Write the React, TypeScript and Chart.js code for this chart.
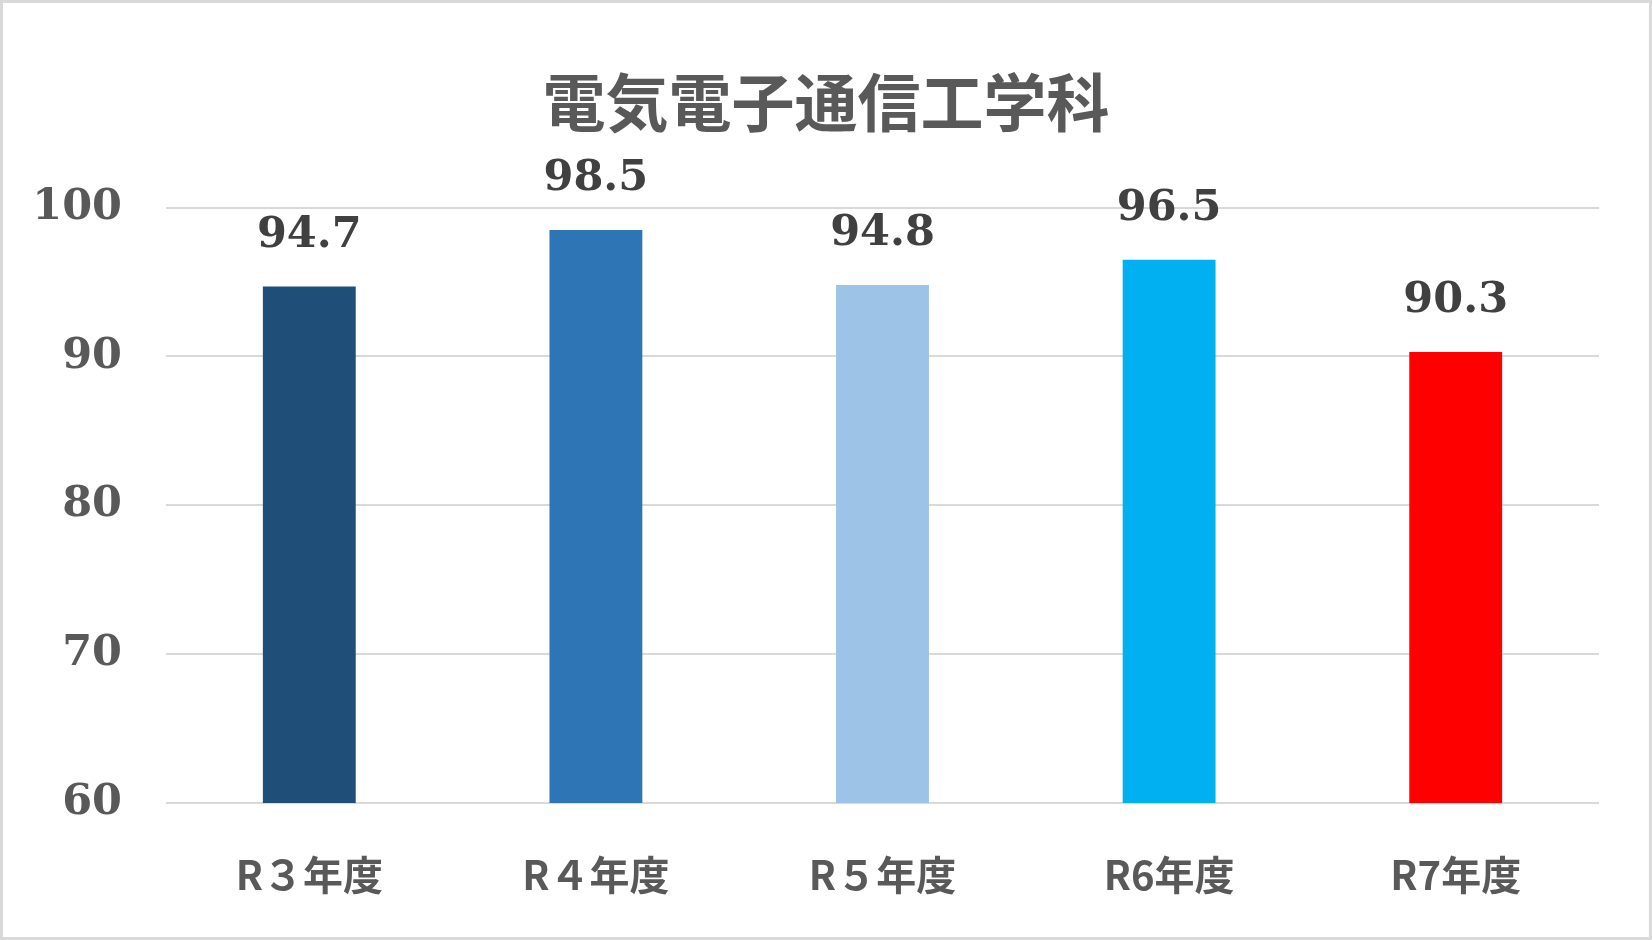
import React, { useEffect, useRef } from 'react';
import { Chart, registerables, Plugin } from 'chart.js';

Chart.register(...registerables);

const chartTitle = '電気電子通信工学科';
const years = ['R３年度', 'R４年度', 'R５年度', 'R6年度', 'R7年度'];
const rates = [94.7, 98.5, 94.8, 96.5, 90.3];
const barColors = ['#1F4E79', '#2E75B6', '#9DC3E6', '#00B0F0', '#FF0000'];
const yTicks = [60, 70, 80, 90, 100];

const frame: Plugin<'bar'> = {
  id: 'frame',
  beforeDraw(chart) {
    const { ctx, width, height } = chart;
    ctx.save();
    ctx.fillStyle = '#ffffff';
    ctx.fillRect(0, 0, width, height);
    ctx.strokeStyle = '#d9d9d9';
    ctx.lineWidth = 3;
    ctx.strokeRect(1.5, 1.5, width - 3, height - 3);
    ctx.restore();
  },
};

const valueLabels: Plugin<'bar'> = {
  id: 'valueLabels',
  afterDatasetsDraw(chart) {
    const { ctx } = chart;
    const meta = chart.getDatasetMeta(0);
    ctx.save();
    ctx.font = 'bold 43px "DejaVu Serif"';
    ctx.fillStyle = '#404040';
    ctx.textAlign = 'center';
    ctx.textBaseline = 'middle';
    meta.data.forEach((bar, i) => {
      ctx.fillText(rates[i].toFixed(1), bar.x, bar.y - 51);
    });
    ctx.restore();
  },
};

const BarChart: React.FC = () => {
  const chartRef = useRef<HTMLCanvasElement>(null);

  useEffect(() => {
    const ctx = chartRef.current?.getContext('2d');
    if (!ctx) return;

    const chart = new Chart(ctx, {
      type: 'bar',
      data: {
        labels: years,
        datasets: [
          {
            data: rates,
            backgroundColor: barColors,
            borderWidth: 0,
            categoryPercentage: 1,
            barPercentage: 0.324,
          },
        ],
      },
      options: {
        responsive: false,
        animation: false,
        devicePixelRatio: 1,
        layout: { padding: 0 },
        plugins: {
          legend: { display: false },
          tooltip: { enabled: false },
          title: {
            display: true,
            text: chartTitle,
            color: '#595959',
            font: { family: '"Noto Sans CJK JP"', size: 63, weight: 'bold', lineHeight: 1.2 },
            padding: { top: 64, bottom: 68 },
          },
        },
        scales: {
          x: {
            grid: { display: false },
            border: { display: false },
            ticks: {
              color: '#595959',
              font: { family: '"Noto Sans CJK JP"', size: 40, weight: 'bold' },
              padding: 40,
            },
            afterFit(scale) {
              scale.height = 137;
            },
          },
          y: {
            min: 60,
            max: 100,
            afterBuildTicks(scale) {
              scale.ticks = yTicks.map((v) => ({ value: v }));
            },
            grid: { color: '#d9d9d9', lineWidth: 2, drawTicks: false },
            border: { display: false },
            ticks: {
              color: '#595959',
              font: { family: '"DejaVu Serif"', size: 43, weight: 'bold' },
              padding: 44,
            },
            afterFit(scale) {
              scale.width = 166;
            },
          },
          // empty right-hand strip so the title stays centred on the whole canvas
          yRight: {
            position: 'right',
            grid: { display: false, drawTicks: false },
            border: { display: false },
            ticks: { display: false },
            afterFit(scale) {
              scale.width = 53;
            },
          },
        },
      },
      plugins: [frame, valueLabels],
    });

    return () => {
      chart.destroy();
    };
  }, []);

  return <canvas ref={chartRef} width={1652} height={940} style={{ display: 'block' }} />;
};

export default function App() {
  return (
    <div style={{ position: 'absolute', left: 0, top: 0, width: 1652, height: 940 }}>
      <BarChart />
    </div>
  );
}
